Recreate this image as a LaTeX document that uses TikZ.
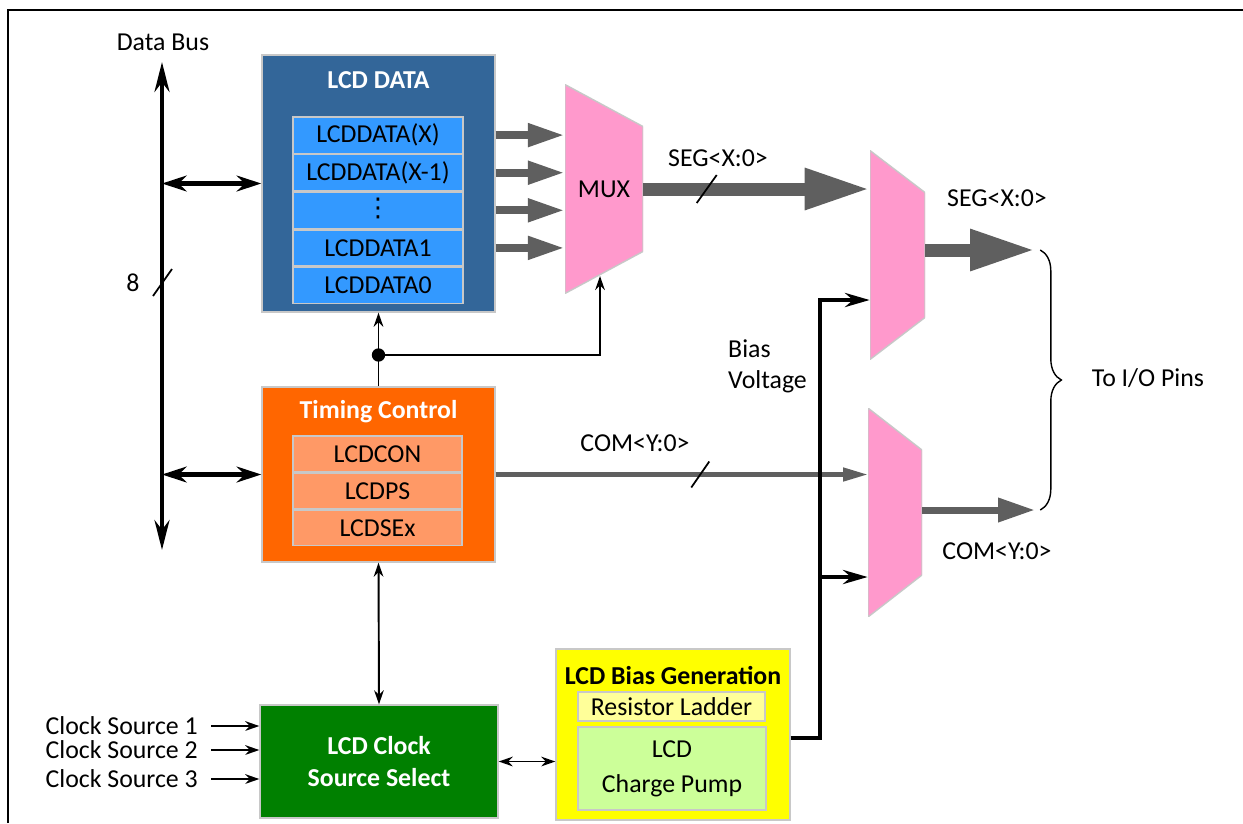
\documentclass[tikz,border=0pt]{standalone}
\usepackage{fontspec}
\setmainfont{Carlito}
\newfontfamily\dotsfont{DejaVu Sans}
\usetikzlibrary{positioning,chains,arrows.meta,calc,decorations.pathreplacing}
\definecolor{datablue}{HTML}{336699}
\definecolor{regblue}{HTML}{3399FF}
\definecolor{timorange}{HTML}{FF6600}
\definecolor{regorange}{HTML}{FF9966}
\definecolor{clkgreen}{HTML}{008000}
\definecolor{biasyellow}{HTML}{FFFF00}
\definecolor{ladderyellow}{HTML}{FFFF99}
\definecolor{pumpgreen}{HTML}{CCFF99}
\definecolor{muxpink}{HTML}{FF99CC}
\definecolor{busgray}{HTML}{5F5F5F}
\definecolor{edgegray}{HTML}{C8C8C8}
\newcommand{\lcdfont}{\fontsize{14.7}{17.5}\selectfont}

\begin{document}
\begin{tikzpicture}[x=0.02cm,y=-0.02cm,
		every node/.style={font=\lcdfont},
		block/.style={
		  draw=edgegray,
		  line width=0.8pt,
		  inner sep=0pt
		},
		boxtitle/.style={
		  font=\lcdfont\bfseries,
		  text=white
		},
		reg/.style={
		  block,
		  minimum width=3.4cm,
		  minimum height=0.724cm
		},
		mux/.style={
		  inner sep=0pt,
		  minimum width=#1,
		  minimum height=4.18cm,
		  path picture={\filldraw[fill=muxpink,draw=edgegray,line width=0.8pt]
		    (path picture bounding box.north west)
		    -- ([yshift=-0.84cm]path picture bounding box.north east)
		    -- ([yshift=0.84cm]path picture bounding box.south east)
		    -- (path picture bounding box.south west) -- cycle;}
		},
		regarrow/.style={draw=busgray,line width=4.5pt,-{Triangle[length=21pt,width=12.5pt]}},
		segarrow/.style={draw=busgray,line width=7.4pt,-{Triangle[length=37pt,width=22pt]}},
		comarrow/.style={draw=busgray,line width=4pt,-{Triangle[length=21pt,width=13pt]}},
		comline/.style={draw=busgray,line width=2.3pt,-{Triangle[length=14pt,width=7.5pt]}},
		busline/.style={line width=2.5pt,{Stealth[length=17pt,width=8.5pt]}-{Stealth[length=17pt,width=8.5pt]}},
		buslink/.style={line width=2.3pt,{Stealth[length=14pt,width=9pt]}-{Stealth[length=14pt,width=9pt]}},
		ctrl/.style={line width=1.1pt,-{Stealth[length=8pt,width=5.5pt]}},
		ctrlboth/.style={line width=1.1pt,{Stealth[length=8pt,width=5.5pt]}-{Stealth[length=8pt,width=5.5pt]}},
		biasline/.style={line width=2.3pt,-{Stealth[length=14pt,width=8pt]}},
		cut/.style={line width=1pt}
		]
		\useasboundingbox (0,0) rectangle (1243,823);
		\draw[line width=1.6pt] (8,823) -- (8,10) -- (1243,10);

		% LCD data registers
		\node[block,fill=datablue,minimum width=4.66cm,minimum height=5.14cm] 
		  (lcddata) at (378.5,183.5) {};
		\node[boxtitle] (datatitle) at (378.5,80) {LCD DATA};
		\begin{scope}[start chain=regs going below,node distance=0pt]
		\node[reg,fill=regblue,on chain] at (378,135.1) 
		  (r1) {LCDDATA(X)};
		\node[reg,fill=regblue,on chain] 
		  (r2) {LCDDATA(X-1)};
		\node[reg,fill=regblue,on chain] 
		  (r3) {\dotsfont\raisebox{3pt}{⋮}};
		\node[reg,fill=regblue,on chain] 
		  (r4) {LCDDATA1};
		\node[reg,fill=regblue,on chain] 
		  (r5) {LCDDATA0};
		\end{scope}

		% timing control
		\node[block,fill=timorange,minimum width=4.66cm,minimum height=3.5cm] 
		  (timing) at (378.5,474.5) {};
		\node[boxtitle] (timtitle) at (378.5,412) {Timing Control};
		\begin{scope}[start chain=tregs going below,node distance=0pt]
		\node[reg,fill=regorange,minimum width=3.38cm,minimum height=0.713cm,on chain] at (377.5,453.8) 
		  (t1) {LCDCON};
		\node[reg,fill=regorange,minimum width=3.38cm,minimum height=0.713cm,on chain] 
		  (t2) {LCDPS};
		\node[reg,fill=regorange,minimum width=3.38cm,minimum height=0.713cm,on chain] 
		  (t3) {LCDSEx};
		\end{scope}

		% clock select and bias generation
		\node[block,fill=clkgreen,minimum width=4.76cm,minimum height=2.26cm,text=white,
		  align=center,font=\fontsize{14.7}{18.2}\selectfont\bfseries] 
		  (clksel) at (379,761.5) {LCD Clock\\Source Select};
		\node[block,fill=biasyellow,minimum width=4.68cm,minimum height=3.42cm] 
		  (biasgen) at (673,734.5) {};
		\node[font=\lcdfont\bfseries] (biastitle) at (673,675) {LCD Bias Generation};
		\node[block,fill=ladderyellow,minimum width=3.74cm,minimum height=0.58cm] 
		  (ladder) at (671.5,706.5) {Resistor Ladder};
		\node[block,fill=pumpgreen,minimum width=3.76cm,minimum height=1.66cm,align=center,
		  font=\fontsize{14.7}{19.8}\selectfont] 
		  (pump) at (672,768.5) {LCD\\Charge Pump};

		% multiplexers
		\node[mux=1.56cm] (mux) at (604,189) {MUX};
		\node[mux=1.1cm] (segmux) at (897.5,255) {};
		\node[mux=1.08cm] (commux) at (895,512.5) {};

		% data bus
		\coordinate (bustop) at (162,62);
		\coordinate (busbot) at (162,550);
		\coordinate (buscut) at (162,283);
		\draw[busline] (busbot) -- (bustop);
		\node (buslabel) at (163,42) {Data Bus};
		\node (buswidth) at (133,283) {8};
		\draw[cut] ([shift={(-9,13)}]buscut) -- ([shift={(10,-14)}]buscut);
		\draw[buslink] (lcddata.west -| bustop) -- (lcddata.west);
		\draw[buslink] (timing.west -| bustop) -- (timing.west);

		\foreach \r in {r1,r2,r3,r4}
		  \draw[regarrow] (lcddata.east |- \r) -- (mux.west |- \r);

		% segment and common outputs
		\draw[segarrow] (mux.east) -- coordinate[pos=0.28] (segcut) (mux.east -| segmux.west);
		\node (seglabel) at (718,158) {SEG<X:0>};
		\draw[cut] ([shift={(-10,14)}]segcut) -- ([shift={(10,-14)}]segcut);

		\draw[comline] (timing.east) -- coordinate[pos=0.55] (comcut) (timing.east -| commux.west);
		\node (comlabel) at (635,443) {COM<Y:0>};
		\draw[cut] ([shift={(-9,13)}]comcut) -- ([shift={(9,-13)}]comcut);

		\coordinate (segout) at (1035,250);
		\coordinate (comout) at (1035,510);
		\draw[segarrow] (segout -| segmux.east) -- (segout);
		\draw[comarrow] (comout -| commux.east) -- (comout);
		\node (segoutlabel) at (997,198) {SEG<X:0>};
		\node (comoutlabel) at (997,551) {COM<Y:0>};
		\draw[decorate,decoration={brace,amplitude=12pt},line width=0.8pt] 
		  ([xshift=3pt]segout) -- ([xshift=3pt]comout);
		\node (pins) at (1148,378) {To I/O Pins};

		% control lines
		\coordinate (selnode) at (378.5,355);
		\coordinate (muxsel) at (600,276);
		\draw[ctrl] (timing.north) -- (lcddata.south);
		\fill (selnode) circle (3.8pt);
		\draw[ctrl] (selnode) -| (muxsel);
		\draw[ctrlboth] (timing.south) -- (clksel.north);

		\node[anchor=east] (cs1) at (204,726) {Clock Source 1};
		\node[anchor=east] (cs2) at (204,750) {Clock Source 2};
		\node[anchor=east] (cs3) at (204,779) {Clock Source 3};
		\foreach \c in {cs1,cs2,cs3}
		  \draw[ctrl,shorten <=4pt] (\c.east) -- (\c.east -| clksel.west);
		\draw[ctrlboth] (clksel.east) -- (clksel.east -| biasgen.west);

		% bias voltage
		\coordinate (segbias) at (820,300);
		\coordinate (combias) at (820,577);
		\draw[biasline] ([yshift=-2pt]biasgen.east) -| (segbias) -- (segbias -| segmux.west);
		\draw[biasline] (combias) -- (combias -| commux.west);
		\node[align=left,anchor=west,font=\fontsize{14.7}{17.6}\selectfont] 
		  (biaslabel) at (722,366) {Bias\\Voltage};
	\end{tikzpicture}
\end{document}
